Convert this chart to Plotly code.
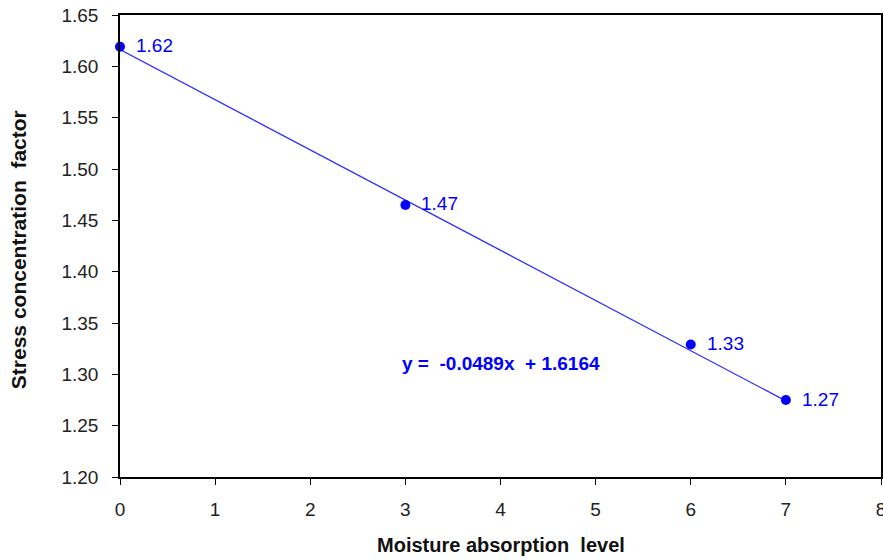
import plotly.graph_objects as go

moisture = [0, 3, 6, 7]
scf = [1.619, 1.465, 1.329, 1.275]
labels = ["1.62", "1.47", "1.33", "1.27"]
slope = -0.0489
intercept = 1.6164
x_ticks = [0, 1, 2, 3, 4, 5, 6, 7, 8]
y_ticks = [1.20, 1.25, 1.30, 1.35, 1.40, 1.45, 1.50, 1.55, 1.60, 1.65]

FONT = "Liberation Sans, Arial, sans-serif"

fit_x = [moisture[0], moisture[-1]]
fit_y = [slope * v + intercept for v in fit_x]

fig = go.Figure()
fig.add_trace(go.Scatter(x=fit_x, y=fit_y, mode="lines",
                         line=dict(color="#2F2FFF", width=1.3), hoverinfo="skip"))
fig.add_trace(go.Scatter(x=moisture, y=scf, mode="markers",
                         marker=dict(color="#0000FF", size=10), cliponaxis=False))

for xv, yv, lab in zip(moisture, scf, labels):
    fig.add_annotation(x=xv, y=yv, text=lab, showarrow=False, xanchor="left",
                       xshift=14, yshift=1,
                       font=dict(family=FONT, size=19, color="#0000FF"))

fig.add_annotation(x=2.94, y=1.311, text="<b>y =  -0.0489x  + 1.6164</b>", showarrow=False,
                   xanchor="left", font=dict(family=FONT, size=19, color="#0000FF"))

# axis titles
fig.add_annotation(x=0.5, y=0, xref="paper", yref="paper", yanchor="middle",
                   yshift=-68, showarrow=False,
                   text="<b>Moisture absorption  level</b>",
                   font=dict(family=FONT, size=20, color="#111"))
fig.add_annotation(x=0, y=0.491, xref="paper", yref="paper", xanchor="center",
                   yanchor="middle", xshift=-102, textangle=-90, showarrow=False,
                   text="<b>Stress concentration  factor</b>",
                   font=dict(family=FONT, size=21, color="#111"))

axis_common = dict(showline=True, linecolor="black", linewidth=1.5, mirror=True,
                   ticks="outside", ticklen=6, tickcolor="black", showgrid=False,
                   zeroline=False, automargin=False, ticklabeloverflow="allow",
                   tickfont=dict(family=FONT, size=19, color="#222"))

fig.update_xaxes(range=[0, 8], tickvals=x_ticks, ticktext=[str(v) for v in x_ticks],
                 ticklabelstandoff=8, **axis_common)
fig.update_yaxes(range=[1.20, 1.65], tickvals=y_ticks, ticktext=[f"{v:.2f}" for v in y_ticks],
                 ticklabelstandoff=10, **axis_common)

fig.update_layout(width=883, height=560, margin=dict(l=120, r=2, t=15, b=83),
                  plot_bgcolor="white", paper_bgcolor="white", showlegend=False)

fig.write_html("out.html", config={"displayModeBar": False},
               post_script="document.body.style.margin='0px';document.body.style.overflow='hidden';")
